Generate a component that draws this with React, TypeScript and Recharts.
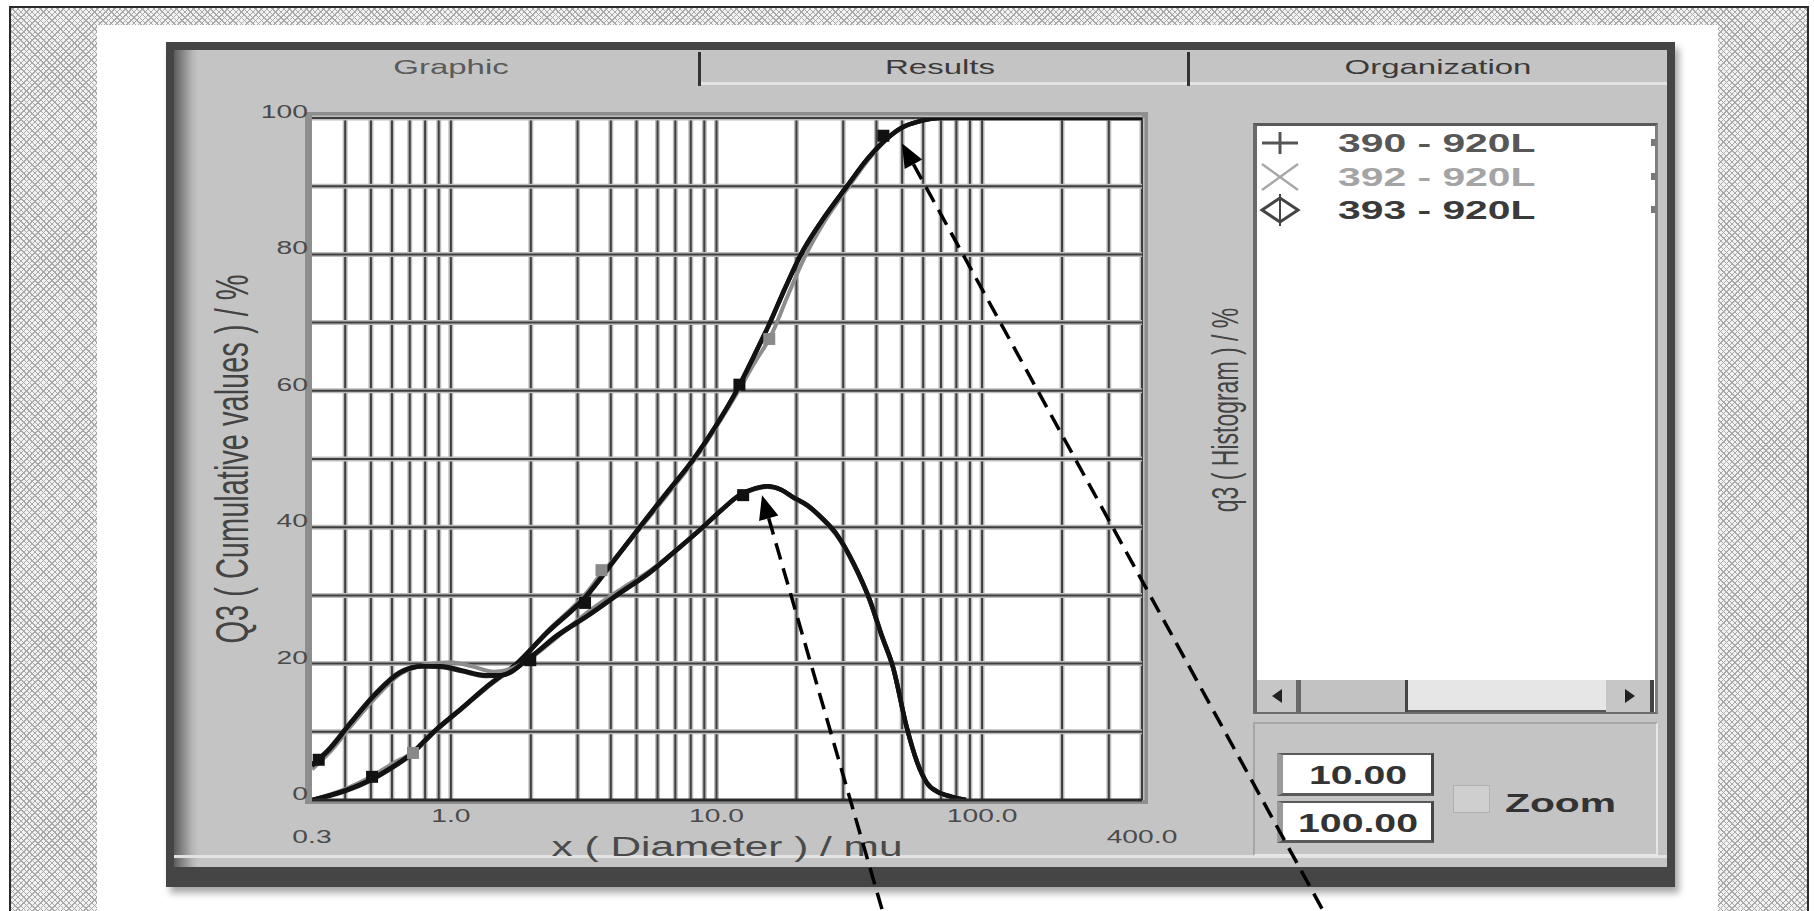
import React from "react";
import {
  CartesianGrid,
  ComposedChart,
  Line,
  ReferenceLine,
  Scatter,
  XAxis,
  YAxis,
} from "recharts";

// ---- data (diameter in mu, values in %) ----

const sampleNames = ["390 - 920L", "392 - 920L", "393 - 920L"];
const tabNames = ["Graphic", "Results", "Organization"];
const zoomRange = ["10.00", "100.00"];

// log grid of the x axis
const xGridLines = [
  0.4, 0.5, 0.6, 0.7, 0.8, 0.9, 1, 2, 3, 4, 5, 6, 7, 8, 9, 10, 20, 30, 40, 50,
  60, 70, 80, 90, 100, 200, 300, 400,
];
const xTicks = [0.3, 1, 10, 100, 400];
const xLabelsUpper = [1, 10, 100];
const xLabelsLower = [0.3, 400];
const yGridLines = [10, 20, 30, 40, 50, 60, 70, 80, 90, 100];
const yTicks = [0, 20, 40, 60, 80, 100];

// Q3 cumulative
const cumulative390 = [
  [0.3, 0], [0.4, 1.4], [0.5, 3], [0.6, 4.8], [0.7, 6.6], [0.86, 10],
  [1.1, 13.5], [1.35, 16.5], [1.77, 20], [2.3, 24.5], [3.26, 30], [4.1, 35],
  [5.15, 40], [6.5, 45], [8.2, 50], [10, 55], [11.9, 60], [13.8, 65],
  [15.9, 70], [18.1, 75], [20.8, 80], [25, 85], [31, 90], [37, 94],
  [43.9, 97], [50, 98.6], [58, 99.5], [70, 100], [400, 100],
];
const cumulative392 = [
  [0.3, 0], [0.4, 1.6], [0.5, 3.4], [0.6, 5.3], [0.72, 7], [0.88, 10.2],
  [1.1, 13.5], [1.35, 16.3], [1.77, 20], [2.3, 24.7], [3.26, 30.5],
  [3.7, 33.3], [4.2, 35.7], [5.2, 40], [6.6, 45], [8.3, 50], [10.1, 55],
  [12.1, 60], [14, 64.3], [16, 68], [18.4, 73.6], [21, 78.8], [25.3, 84.6],
  [31.3, 89.8], [37.5, 94], [44, 97], [50, 98.6], [58, 99.5], [70, 100],
  [400, 100],
];
const cumulative393 = [
  [0.3, 0], [0.4, 1.3], [0.5, 2.9], [0.6, 4.7], [0.7, 6.5], [0.86, 9.9],
  [1.1, 13.4], [1.35, 16.4], [1.77, 20], [2.3, 24.6], [3.26, 30.1],
  [4.1, 35.1], [5.15, 40.1], [6.5, 45.1], [8.2, 50], [10, 55], [11.9, 60],
  [13.8, 65], [15.9, 70], [18.1, 75], [20.8, 80], [25, 85], [31, 90],
  [37, 94], [43.9, 97], [50, 98.6], [58, 99.5], [70, 100], [400, 100],
];

// q3 histogram
const histogram390 = [
  [0.3, 5], [0.35, 7.5], [0.42, 11.3], [0.52, 15.5], [0.64, 18.6],
  [0.78, 19.6], [0.92, 19.6], [1.1, 19], [1.35, 18.3], [1.55, 18.3],
  [2, 21], [2.5, 24], [3.34, 27.2], [4.4, 30.5], [5.6, 33.3], [7, 36.5],
  [8.66, 39.6], [10.5, 42.6], [12.2, 44.7], [14, 45.7], [15.5, 46],
  [17.5, 45.5], [19.4, 44.4], [22, 43.2], [25, 41.3], [28.3, 39], [33, 34.5],
  [37.8, 29.3], [42, 24], [46.2, 19.5], [52, 10.7], [57, 5.5], [62, 2.5],
  [68, 1.2], [75, 0.6], [87, 0],
];
const histogram392 = [
  [0.3, 4.5], [0.35, 7], [0.42, 10.8], [0.52, 15], [0.64, 18.4], [0.8, 19.8],
  [1, 20.2], [1.2, 19.6], [1.45, 18.8], [1.7, 19.3], [2, 20.8], [2.5, 23.8],
  [3.34, 27.8], [4.4, 31], [5.6, 33.6], [7, 36.6], [8.66, 39.7],
  [10.5, 42.6], [12.2, 44.6], [14, 45.6], [15.5, 45.9], [17.5, 45.5],
  [19.4, 44.3], [22, 43.1], [25, 41.2], [28.3, 38.8], [33, 34.3],
  [37.8, 29.1], [42, 23.8], [46.2, 19.3], [52, 10.6], [57, 5.4], [62, 2.4],
  [68, 1.1], [75, 0.5], [87, 0],
];
const histogram393 = [
  [0.3, 5.2], [0.35, 7.6], [0.42, 11.4], [0.52, 15.6], [0.64, 18.7],
  [0.78, 19.6], [0.92, 19.5], [1.1, 18.9], [1.35, 18.2], [1.55, 18.3],
  [2, 21], [2.5, 24.1], [3.34, 27.3], [4.4, 30.6], [5.6, 33.4], [7, 36.5],
  [8.66, 39.6], [10.5, 42.6], [12.2, 44.7], [14, 45.7], [15.5, 46],
  [17.5, 45.5], [19.4, 44.4], [22, 43.2], [25, 41.3], [28.3, 39], [33, 34.5],
  [37.8, 29.3], [42, 24], [46.2, 19.5], [52, 10.7], [57, 5.5], [62, 2.5],
  [68, 1.2], [75, 0.6], [87, 0],
];

// measured points visible as blobs on the curves
const markers390 = [
  [0.318, 5.9], [0.505, 3.4], [1.99, 20.5], [3.2, 28.9], [12.2, 60.9],
  [42.5, 97.4], [12.6, 44.7],
];
const markers392 = [[0.72, 6.9], [3.69, 33.7], [15.8, 67.6]];

// annotation arrows: [tip, tail]
const arrowPeak = [[14.84, 44.7], [42.7, -17]];
const arrowTop = [[49.9, 96.3], [1972, -17]];

// ---- helpers ----

const FONT = '"Liberation Sans", Arial, Helvetica, sans-serif';
const S = 1.57; // the screenshot is stretched horizontally

const pts = (rows: number[][]) => rows.map(([d, q]) => ({ d, q }));

const seriesCum = [cumulative392, cumulative393, cumulative390];
const seriesHist = [histogram392, histogram393, histogram390];
const seriesColor = ["#8d8d8d", "#262626", "#121212"];

function GridLine(props: any) {
  const { x1, y1, x2, y2 } = props;
  return (
    <g>
      <line x1={x1} y1={y1} x2={x2} y2={y2} stroke="#bdbdbd" strokeWidth={5} />
      <line x1={x1} y1={y1} x2={x2} y2={y2} stroke="#3e3e3e" strokeWidth={2} />
    </g>
  );
}

function Arrow(props: any) {
  const { x1, y1, x2, y2 } = props;
  const a = Math.atan2(y2 - y1, x2 - x1);
  const len = 24;
  const half = 10;
  const bx = x1 + len * Math.cos(a);
  const by = y1 + len * Math.sin(a);
  const px = -Math.sin(a) * half;
  const py = Math.cos(a) * half;
  return (
    <g>
      <line
        x1={bx}
        y1={by}
        x2={x2}
        y2={y2}
        stroke="#000"
        strokeWidth={3.5}
        strokeDasharray="17 9"
      />
      <polygon
        points={`${x1},${y1} ${bx + px},${by + py} ${bx - px},${by - py}`}
        fill="#000"
      />
    </g>
  );
}

function XTick(props: any) {
  const { x, y, payload } = props;
  const v = payload.value;
  let dy = -1;
  if (xLabelsUpper.includes(v)) dy = 16;
  if (xLabelsLower.includes(v)) dy = 37;
  if (dy < 0) return <g />;
  return (
    <g transform={`translate(${x},${y + dy}) scale(${S},1)`}>
      <text
        textAnchor="middle"
        dominantBaseline="central"
        fontSize={18}
        fontFamily={FONT}
        fill="#4a4a4a"
      >
        {v.toFixed(1)}
      </text>
    </g>
  );
}

function YTick(props: any) {
  const { x, y, payload } = props;
  return (
    <g transform={`translate(${x},${y - 6}) scale(${S},1)`}>
      <text
        textAnchor="end"
        dominantBaseline="central"
        fontSize={18}
        fontFamily={FONT}
        fill="#4a4a4a"
      >
        {payload.value}
      </text>
    </g>
  );
}

function Txt(props: {
  x: number;
  y: number;
  size: number;
  children: React.ReactNode;
  bold?: boolean;
  color?: string;
  left?: boolean;
  rotate?: boolean;
}) {
  const { x, y, size, bold, color, left, rotate } = props;
  let transform = `translate(-50%,-50%) scaleX(${S})`;
  if (left) transform = `translateY(-50%) scaleX(${S})`;
  if (rotate) transform = `translate(-50%,-50%) rotate(-90deg) scaleY(${S})`;
  return (
    <div
      style={{
        position: "absolute",
        left: x,
        top: y,
        transform,
        transformOrigin: left ? "left center" : "center",
        whiteSpace: "nowrap",
        fontFamily: FONT,
        fontSize: size,
        fontWeight: bold ? 700 : 400,
        lineHeight: 1,
        color: color || "#3c3c3c",
      }}
    >
      {props.children}
    </div>
  );
}

function box(
  left: number,
  top: number,
  width: number,
  height: number,
  extra: React.CSSProperties = {}
): React.CSSProperties {
  return { position: "absolute", left, top, width, height, boxSizing: "border-box", ...extra };
}

function LegendSymbol({ i }: { i: number }) {
  const c = ["#555", "#a8a8a8", "#444"][i];
  return (
    <svg width={44} height={34} style={{ position: "absolute", left: 1258, top: [126, 160, 193][i] }}>
      {i === 0 && (
        <g stroke={c} strokeWidth={3}>
          <line x1={4} y1={17} x2={40} y2={17} />
          <line x1={22} y1={6} x2={22} y2={28} />
        </g>
      )}
      {i === 1 && (
        <g stroke={c} strokeWidth={2.5}>
          <line x1={4} y1={4} x2={40} y2={30} />
          <line x1={40} y1={4} x2={4} y2={30} />
        </g>
      )}
      {i === 2 && (
        <g stroke={c} strokeWidth={3} fill="none">
          <polygon points="4,17 22,5 40,17 22,29" />
          <line x1={22} y1={1} x2={22} y2={33} strokeWidth={2} />
        </g>
      )}
    </svg>
  );
}

export default function App() {
  const hatch =
    "repeating-linear-gradient(45deg, #a9a9a9 0 1px, transparent 1px 4px), repeating-linear-gradient(-45deg, #a9a9a9 0 1px, transparent 1px 4px)";

  return (
    <div style={box(0, 0, 1814, 911, { overflow: "hidden", background: "#fff" })}>
      {/* page background */}
      <div style={box(9, 6, 1800, 1000, { border: "2px solid #2a2a2a", backgroundColor: "#f2f2f2", backgroundImage: hatch })} />
      <div style={box(97, 25, 1621, 1000, { background: "#fff" })} />

      {/* window frame */}
      <div style={box(166, 42, 1509, 845, { background: "#454545", boxShadow: "4px 6px 7px rgba(0,0,0,0.35)" })} />
      <div style={box(174, 50, 1493, 817, { background: "#c4c4c4" })} />
      <div style={box(174, 50, 24, 817, { background: "linear-gradient(to right, #5c5c5c, #8c8c8c 40%, #b4b4b4 75%, #c4c4c4)" })} />
      <div style={box(174, 855, 1493, 3, { background: "#e2e2e2" })} />

      {/* tabs */}
      <div style={box(700, 82, 967, 3, { background: "#e4e4e4" })} />
      <div style={box(698, 52, 3, 34, { background: "#333" })} />
      <div style={box(1187, 52, 3, 34, { background: "#333" })} />
      {tabNames.map((t, i) => (
        <Txt key={t} x={[451, 940, 1438][i]} y={66} size={21} color={i === 0 ? "#5a5a5a" : "#3a3a3a"}>
          {t}
        </Txt>
      ))}

      {/* plot frame behind the chart */}
      <div style={box(305, 112, 843, 692, { background: "#8e8e8e" })} />

      {/* axis titles */}
      <Txt x={233} y={459} size={29} rotate color="#444">
        Q3 ( Cumulative values ) / %
      </Txt>
      <Txt x={727} y={847} size={27} color="#4a4a4a">
        x ( Diameter ) / mu
      </Txt>
      <Txt x={1226} y={410} size={23} rotate color="#444">
        q3 ( Histogram ) / %
      </Txt>

      {/* legend list */}
      <div style={box(1253, 123, 405, 591, { background: "#fff", borderTop: "3px solid #5a5a5a", borderLeft: "4px solid #6a6a6a", borderRight: "3px solid #808080", borderBottom: "2px solid #6a6a6a" })} />
      {sampleNames.map((n, i) => (
        <React.Fragment key={n}>
          <LegendSymbol i={i} />
          <Txt x={1338} y={[143, 177, 210][i]} size={26} bold left color={["#575757", "#a4a4a4", "#3a3a3a"][i]}>
            {n}
          </Txt>
          <div style={box(1651, [139, 173, 206][i], 4, 7, { background: "#777" })} />
        </React.Fragment>
      ))}
      {/* scrollbar */}
      <div style={box(1257, 680, 397, 32, { background: "#e6e6e6", borderBottom: "2px solid #555" })} />
      <div style={box(1257, 680, 40, 32, { background: "#c6c6c6" })} />
      <div style={box(1296, 680, 112, 32, { background: "#c2c2c2", borderLeft: "5px solid #686868", borderRight: "3px solid #444" })} />
      <div style={box(1606, 680, 48, 32, { background: "#c6c6c6", borderRight: "4px solid #444" })} />
      <svg width={1814} height={911} style={{ position: "absolute", left: 0, top: 0 }}>
        <polygon points="1272,696 1282,689 1282,703" fill="#222" />
        <polygon points="1635,696 1625,689 1625,703" fill="#222" />
      </svg>

      {/* zoom controls */}
      <div style={box(1253, 722, 405, 134, { borderTop: "2px solid #a6a6a6", borderLeft: "2px solid #a6a6a6", borderRight: "2px solid #e6e6e6", borderBottom: "2px solid #e6e6e6" })} />
      {zoomRange.map((z, i) => (
        <React.Fragment key={z}>
          <div style={box(1277, [753, 801][i], 157, [43, 42][i], { background: "#fff", borderLeft: "6px solid #9a9a9a", borderTop: "2px solid #5a5a5a", borderRight: "3px solid #444", borderBottom: "3px solid #5a5a5a" })} />
          <Txt x={1358} y={[775, 823][i]} size={25} bold color="#333">
            {z}
          </Txt>
        </React.Fragment>
      ))}
      <div style={box(1453, 785, 37, 28, { background: "#cfcfcf", border: "1px solid #b0b0b0" })} />
      <Txt x={1505} y={803} size={26} bold left color="#333">
        Zoom
      </Txt>

      {/* the chart */}
      <div style={{ position: "absolute", left: 0, top: 0, zIndex: 5 }}>
        <ComposedChart
          width={1814}
          height={911}
          margin={{ top: 118, right: 672, bottom: 51, left: 252 }}
        >
          <CartesianGrid horizontal={false} vertical={false} fill="#ffffff" />
          <XAxis
            dataKey="d"
            type="number"
            scale="log"
            domain={[0.3, 400]}
            allowDataOverflow
            ticks={xTicks}
            interval={0}
            height={60}
            tickSize={0}
            tickMargin={0}
            tickLine={false}
            axisLine={{ stroke: "#2a2a2a", strokeWidth: 3 }}
            tick={<XTick />}
          />
          <YAxis
            dataKey="q"
            type="number"
            domain={[0, 100]}
            allowDataOverflow
            ticks={yTicks}
            interval={0}
            width={60}
            tickSize={0}
            tickMargin={4}
            tickLine={false}
            axisLine={false}
            tick={<YTick />}
          />
          {xGridLines.map((v) => (
            <ReferenceLine key={`x${v}`} x={v} shape={GridLine} zIndex={-50} />
          ))}
          {yGridLines.map((v) => (
            <ReferenceLine key={`y${v}`} y={v} shape={GridLine} zIndex={-50} />
          ))}
          {seriesCum.map((rows, i) => (
            <Line
              key={`c${i}`}
              data={pts(rows)}
              dataKey="q"
              type="monotone"
              stroke={seriesColor[i]}
              strokeWidth={i === 0 ? 4 : 4.5}
              dot={false}
              isAnimationActive={false}
            />
          ))}
          {seriesHist.map((rows, i) => (
            <Line
              key={`h${i}`}
              data={pts(rows)}
              dataKey="q"
              type="monotone"
              stroke={seriesColor[i]}
              strokeWidth={i === 0 ? 4 : 4.5}
              dot={false}
              isAnimationActive={false}
            />
          ))}
          <Scatter
            data={pts(markers392)}
            dataKey="q"
            isAnimationActive={false}
            shape={(p: any) => (
              <rect x={p.cx - 6} y={p.cy - 6} width={12} height={12} fill="#8a8a8a" />
            )}
          />
          <Scatter
            data={pts(markers390)}
            dataKey="q"
            isAnimationActive={false}
            shape={(p: any) => (
              <rect x={p.cx - 6} y={p.cy - 6} width={12} height={12} fill="#111" />
            )}
          />
          {[arrowPeak, arrowTop].map((a, i) => (
            <ReferenceLine
              key={`a${i}`}
              segment={[
                { x: a[0][0], y: a[0][1] },
                { x: a[1][0], y: a[1][1] },
              ]}
              ifOverflow="visible"
              shape={Arrow}
              zIndex={2000}
            />
          ))}
        </ComposedChart>
      </div>
    </div>
  );
}
